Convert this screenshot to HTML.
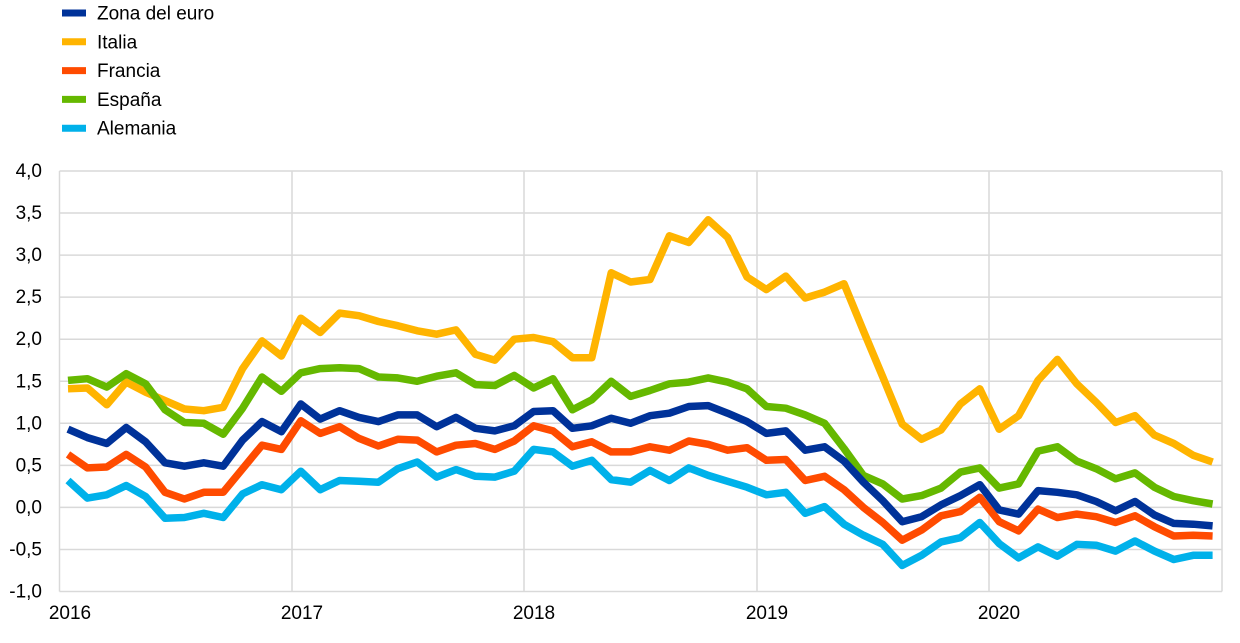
<!DOCTYPE html>
<html><head><meta charset="utf-8"><style>
body{margin:0;background:#fff;width:1240px;height:638px;overflow:hidden}
svg{font-family:"Liberation Sans",sans-serif}
</style></head><body>
<svg id="s" width="1240" height="638" xmlns="http://www.w3.org/2000/svg"></svg>
<script>
const s=document.getElementById('s');let h='';
const Y=v=>171+(4-v)*84.1, X=i=>68+i*19.4;
for(let k=0;k<=10;k++){const y=171+k*42.05;h+=`<line x1="59.5" x2="1222" y1="${y}" y2="${y}" stroke="#d9d9d9" stroke-width="1.5"/>`;
h+=`<text x="42" y="${y+6}" font-size="19" text-anchor="end">${(4-k*0.5).toFixed(1).replace('.',',')}</text>`;}
[59.5,292,524,757,989,1222].forEach(x=>h+=`<line x1="${x}" x2="${x}" y1="171" y2="591.5" stroke="#d9d9d9" stroke-width="1.5"/>`);
[[70,2016],[302,2017],[534,2018],[767,2019],[999,2020]].forEach(([x,t])=>h+=`<text x="${x}" y="619" font-size="19" text-anchor="middle">${t}</text>`);
const D={
it:["#FFB400",[1.41,1.42,1.22,1.49,1.37,1.27,1.17,1.15,1.19,1.65,1.98,1.80,2.25,2.08,2.31,2.28,2.21,2.16,2.10,2.06,2.11,1.82,1.75,2.00,2.02,1.97,1.78,1.78,2.79,2.68,2.71,3.23,3.15,3.42,3.21,2.74,2.59,2.75,2.49,2.56,2.66,2.10,1.55,0.99,0.81,0.92,1.23,1.41,0.93,1.09,1.51,1.76,1.47,1.25,1.01,1.09,0.86,0.76,0.62,0.54]],
es:["#65B800",[1.51,1.53,1.43,1.59,1.47,1.16,1.01,1.00,0.87,1.18,1.55,1.38,1.60,1.65,1.66,1.65,1.55,1.54,1.50,1.56,1.60,1.46,1.45,1.57,1.42,1.53,1.16,1.28,1.50,1.32,1.39,1.47,1.49,1.54,1.49,1.41,1.20,1.18,1.10,1.00,0.70,0.38,0.28,0.10,0.14,0.23,0.42,0.47,0.23,0.28,0.67,0.72,0.55,0.46,0.34,0.41,0.24,0.13,0.08,0.04]],
fr:["#FF4B00",[0.63,0.47,0.48,0.63,0.48,0.18,0.10,0.18,0.18,0.46,0.74,0.69,1.03,0.88,0.96,0.82,0.73,0.81,0.80,0.66,0.74,0.76,0.69,0.79,0.97,0.91,0.72,0.78,0.66,0.66,0.72,0.68,0.79,0.75,0.68,0.71,0.56,0.57,0.32,0.37,0.21,0.00,-0.18,-0.39,-0.27,-0.10,-0.05,0.12,-0.17,-0.28,-0.02,-0.12,-0.08,-0.11,-0.18,-0.10,-0.23,-0.34,-0.33,-0.34]],
de:["#00B1EA",[0.32,0.11,0.15,0.26,0.13,-0.13,-0.12,-0.07,-0.12,0.16,0.27,0.21,0.43,0.21,0.32,0.31,0.30,0.46,0.54,0.36,0.45,0.37,0.36,0.43,0.69,0.66,0.49,0.56,0.33,0.30,0.44,0.32,0.47,0.38,0.31,0.24,0.15,0.18,-0.07,0.01,-0.20,-0.33,-0.44,-0.69,-0.57,-0.41,-0.36,-0.18,-0.43,-0.60,-0.47,-0.58,-0.44,-0.45,-0.52,-0.40,-0.52,-0.62,-0.57,-0.57]],
ez:["#003299",[0.93,0.83,0.76,0.95,0.78,0.53,0.49,0.53,0.49,0.80,1.02,0.90,1.23,1.05,1.15,1.07,1.02,1.10,1.10,0.96,1.07,0.94,0.91,0.97,1.14,1.15,0.94,0.97,1.06,1.00,1.09,1.12,1.20,1.21,1.12,1.02,0.88,0.91,0.68,0.72,0.55,0.30,0.08,-0.17,-0.11,0.03,0.14,0.27,-0.03,-0.08,0.20,0.18,0.15,0.07,-0.04,0.07,-0.09,-0.19,-0.20,-0.22]]};
for(const k in D){const [c,v]=D[k];h+=`<polyline fill="none" stroke="${c}" stroke-width="7.5" stroke-linejoin="round" points="${v.map((a,i)=>X(i).toFixed(1)+','+Y(a).toFixed(1)).join(' ')}"/>`;}
[["#003299","Zona del euro"],["#FFB400","Italia"],["#FF4B00","Francia"],["#65B800","España"],["#00B1EA","Alemania"]].forEach(([c,t],i)=>{const y=13+i*28.8;
h+=`<line x1="62" x2="86" y1="${y}" y2="${y}" stroke="${c}" stroke-width="7"/><text x="97" y="${y+6.5}" font-size="19">${t}</text>`;});
s.innerHTML=h;
</script>
</body></html>
